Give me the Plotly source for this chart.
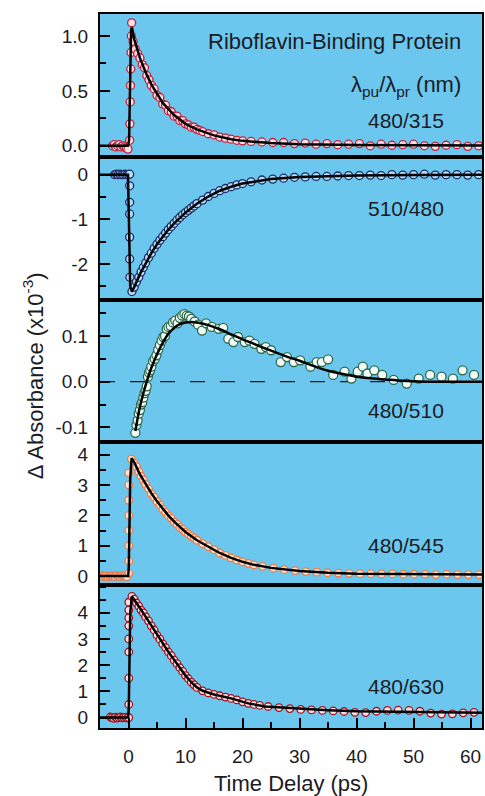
import plotly.graph_objects as go
from plotly.subplots import make_subplots

# ---------------- data ----------------
# Panel 1: 480/315
t1 = [-2.8,-2.5,-2.2,-1.9,-1.6,-1.3,-1.0,-0.7,-0.4,-0.1,
      0.2,0.25,0.3,0.35,0.4,0.45,0.5,0.55,
      0.8,1.2,1.6,2.0,2.4,2.8,3.2,3.6,4.0,
      4.5,5.0,5.5,6.0,6.5,7.0,7.5,8.0,8.5,9.0,9.5,10,10.5,11,11.5,12,12.5,13,
      14,15,16,17,18,19,20,
      21.5,23.4,25.3,27.2,29.1,31.0,32.9,34.8,36.7,38.6,40.5,42.4,44.3,46.2,48.1,50.0,51.9,53.8,55.7,57.6,59.5,61.4]
a1 = [0.0,0.01,-0.01,0.0,0.01,-0.01,0.0,-0.01,-0.02,-0.03,
      0.05,0.2,0.4,0.55,0.7,0.85,1.0,1.12,
      0.95,0.88,0.84,0.8,0.74,0.71,0.64,0.6,0.55,
      0.52,0.46,0.44,0.38,0.37,0.32,0.31,0.27,0.27,0.23,0.23,0.2,0.19,0.17,0.17,0.15,0.14,0.13,
      0.11,0.1,0.08,0.07,0.06,0.05,0.045,
      0.04,0.035,0.03,0.03,0.02,0.025,0.015,0.02,0.01,0.015,0.02,0.0,0.015,0.005,0.01,0.015,0.0,-0.005,0.005,0.01,-0.005,0.0]
fit1_t = [-5,-0.1,0.1,0.25,0.45,0.6,1,2,3,4,5,6,8,10,12,15,18,20,25,30,40,50,62]
fit1 = [0,0,0.05,0.6,1.05,1.08,0.97,0.8,0.67,0.56,0.47,0.39,0.28,0.2,0.15,0.095,0.06,0.045,0.025,0.015,0.008,0.005,0.004]

# Panel 2: 510/480
t2 = [-2.4,-2.1,-1.8,-1.5,-1.2,-0.9,-0.6,-0.3,0.0,
      0.2,0.2,0.2,0.2,0.2,0.2,0.25,
      0.6,
      1.0,1.4,1.8,2.2,2.6,3.0,
      3.5,4.0,4.5,5.0,5.5,6.0,6.5,7.0,7.5,8.0,8.5,9.0,9.5,10,10.5,11,11.5,12,
      13,14,15,16,17,18,19,20,
      21.5,23.4,25.3,27.2,29.1,31.0,32.9,34.8,36.7,38.6,40.5,42.4,44.3,46.2,48.1,50.0,51.9,53.8,55.7,57.6,59.5,61.4]
a2 = [0.0,0.01,0.0,0.01,0.0,0.0,0.01,0.0,0.0,
      0.01,-0.25,-0.62,-0.88,-1.4,-1.89,-2.3,
      -2.62,
      -2.52,-2.4,-2.3,-2.18,-2.08,-1.98,
      -1.86,-1.76,-1.65,-1.56,-1.47,-1.39,-1.31,-1.23,-1.16,-1.09,-1.02,-0.96,-0.9,-0.85,-0.8,-0.75,-0.7,-0.65,
      -0.57,-0.49,-0.42,-0.36,-0.31,-0.27,-0.23,-0.2,
      -0.16,-0.12,-0.1,-0.08,-0.06,-0.05,-0.04,-0.04,-0.03,-0.02,-0.02,-0.01,-0.02,0.0,-0.01,0.0,0.01,-0.01,0.0,0.0,-0.01,0.0]
fit2_t = [-5,-0.1,0.1,0.3,0.6,1,2,3,4,5,6,7,8,10,12,14,16,18,20,25,30,35,40,50,62]
fit2 = [0,0,-1.2,-2.5,-2.62,-2.52,-2.23,-1.98,-1.76,-1.56,-1.39,-1.23,-1.09,-0.85,-0.65,-0.49,-0.36,-0.27,-0.2,-0.1,-0.05,-0.03,-0.02,-0.01,0.0]

# Panel 3: 480/510
t3 = [1.2,1.4,1.6,1.8,2.0,2.2,2.4,2.6,2.8,3.0,
      3.2,3.4,3.6,3.8,4.0,4.3,4.6,4.9,5.2,5.5,5.8,6.1,6.4,6.7,7.0,
      7.4,7.8,8.2,8.6,9.0,9.4,9.8,10.2,10.6,11.0,
      11.6,12.2,12.9,13.6,14.6,15.8,16.6,17.5,18.4,19.2,
      20.4,21.2,22.1,23.3,24.1,25,26.7,27.8,29,30.1,
      31.9,33,33.9,35,35.9,37.9,39.1,40.2,41.1,41.9,
      43.1,44.5,46.5,48.8,50.9,52.9,54.9,56.9,58.6,60.6]
a3 = [-0.112,-0.095,-0.085,-0.07,-0.062,-0.05,-0.045,-0.035,-0.025,-0.02,
      -0.01,0.011,0.02,0.025,0.033,0.045,0.05,0.058,0.07,0.08,0.09,0.098,0.1,0.116,0.12,
      0.122,0.13,0.134,0.128,0.14,0.145,0.148,0.145,0.143,0.138,
      0.132,0.125,0.112,0.128,0.12,0.116,0.118,0.094,0.087,0.098,
      0.087,0.09,0.083,0.072,0.076,0.069,0.043,0.054,0.043,0.047,
      0.033,0.043,0.043,0.049,0.015,0.022,0.007,0.022,0.033,0.018,
      0.025,0.015,0.004,-0.004,0.007,0.015,0.011,0.007,0.025,0.015]
fit3_t = [1.2,1.6,2,2.5,3,3.5,4,5,6,7,8,9,10,11,12,14,16,18,20,22,25,28,30,33,35,38,40,43,45,48,50,53,55,58,62]
fit3 = [-0.108,-0.08,-0.055,-0.03,-0.008,0.012,0.03,0.06,0.085,0.105,
        0.118,0.126,0.13,0.131,0.13,0.124,0.115,0.104,0.093,0.083,
        0.068,0.054,0.046,0.032,0.024,0.016,0.011,0.007,0.005,0.002,
        0.001,0.0,0.0,0.0,0.0]

# Panel 4: 480/545
t4 = [-4.8,-4.5,-4.2,-3.9,-3.6,-3.3,-3.0,-2.7,-2.4,-2.1,-1.8,-1.5,-1.2,-0.9,-0.6,-0.3,
      0.05,0.05,0.05,0.05,0.05,0.05,0.05,0.05,
      0.5,
      1.0,1.4,1.8,2.2,2.6,3.0,
      3.5,4.0,4.5,5.0,5.5,6.0,6.5,7.0,7.5,8.0,8.5,9.0,9.5,10,10.5,11,11.5,12,
      13,14,15,16,17,18,19,20,21,22,
      23.5,25.4,27.3,29.2,31.1,33.0,34.9,36.8,38.7,40.6,42.5,44.4,46.3,48.2,50.1,52.0,53.9,55.8,57.7,59.6,61.5]
a4 = [0.02,-0.01,0.0,0.01,-0.02,0.0,0.01,0.0,-0.01,0.02,0.0,-0.01,0.01,0.0,0.0,-0.02,
      0.1,0.5,1.0,1.5,2.0,2.5,3.0,3.4,
      3.85,
      3.72,3.6,3.44,3.28,3.17,3.02,
      2.88,2.71,2.6,2.45,2.34,2.2,2.1,1.98,1.9,1.78,1.71,1.6,1.54,1.45,1.38,1.31,1.25,1.18,
      1.07,0.97,0.87,0.76,0.68,0.6,0.53,0.47,0.42,0.37,
      0.32,0.26,0.21,0.18,0.15,0.13,0.11,0.1,0.09,0.08,0.08,0.07,0.07,0.06,0.06,0.06,0.05,0.06,0.05,0.05,0.05]
fit4_t = [-5,-0.05,0.05,0.3,0.55,1,2,3,4,5,6,7,8,10,12,14,16,18,20,22,25,30,35,40,50,62]
fit4 = [0,0,0.3,3.2,3.88,3.74,3.35,3.03,2.73,2.46,2.21,1.99,1.79,1.45,1.18,0.96,0.76,0.6,0.47,0.37,0.27,0.17,0.11,0.08,0.06,0.05]

# Panel 5: 480/630
t5 = [-3.2,-2.9,-2.6,-2.3,-2.0,-1.7,-1.4,-1.1,-0.8,-0.5,-0.2,
      0.05,0.05,0.05,0.05,0.05,0.05,0.05,0.05,0.05,
      0.6,
      1.0,1.4,1.8,2.2,2.6,3.0,
      3.5,4.0,4.5,5.0,5.5,6.0,6.5,7.0,7.5,8.0,8.5,9.0,9.5,10,10.5,11,11.5,12,
      13,14,15,16,17,18,19,20,21,22,23,
      24.5,26.4,28.3,30.2,32.1,34.0,35.9,37.8,39.7,41.6,43.5,45.4,47.3,49.2,51.1,53.0,54.9,56.8,58.7,60.6]
a5 = [0.02,0.0,-0.03,0.01,-0.02,0.0,0.02,-0.01,0.0,0.01,-0.02,
      0.0,0.5,1.5,2.5,3.0,3.5,3.8,4.1,4.4,
      4.62,
      4.52,4.37,4.25,4.1,3.99,3.84,
      3.69,3.5,3.34,3.14,2.99,2.81,2.67,2.5,2.36,2.19,2.06,1.9,1.76,1.6,1.48,1.35,1.25,1.15,
      1.02,0.94,0.88,0.83,0.78,0.73,0.67,0.6,0.54,0.5,0.46,
      0.42,0.38,0.34,0.31,0.29,0.27,0.25,0.23,0.2,0.19,0.24,0.27,0.28,0.27,0.24,0.17,0.13,0.14,0.18,0.2]
fit5_t = [-5,-0.05,0.05,0.3,0.6,1,2,3,4,5,6,7,8,9,10,11,12,13,15,18,21,24,30,35,40,50,62]
fit5 = [0,0,0.4,4.0,4.62,4.5,4.18,3.85,3.5,3.15,2.82,2.5,2.2,1.9,1.6,1.35,1.15,1.02,0.88,0.73,0.54,0.42,0.33,0.28,0.24,0.2,0.18]

panel_labels = ["480/315", "510/480", "480/510", "480/545", "480/630"]
y_ranges = [[-0.1, 1.2], [-2.8, 0.4], [-0.133, 0.18], [-0.3, 4.4], [-0.4, 5.05]]
y_tickvals = [[0, 0.5, 1.0], [-2, -1, 0], [-0.1, 0.0, 0.1], [0, 1, 2, 3, 4], [0, 1, 2, 3, 4]]
y_ticktext = [["0.0", "0.5", "1.0"], ["-2", "-1", "0"], ["-0.1", "0.0", "0.1"],
              ["0", "1", "2", "3", "4"], ["0", "1", "2", "3", "4"]]
y_minor = [0.25, 0.5, 0.05, 0.5, 0.5]
x_tickvals = [0, 10, 20, 30, 40, 50, 60]

# ---------------- styling ----------------
edge_cols = ["#c21f3c", "#1d2a66", "#2c6a4c", "#f07a48", "#a3121f"]
fill_cols = ["#ffdfe3", "#b4def2", "#f4fcf7", "#ffe6d6", "#ffe2e2"]
sizes = [8, 8, 9, 7.5, 7.5]
BG = "#6CC7EE"
FONT = "Liberation Sans, Arial, sans-serif"
TXT = "#1b1b24"

fig = make_subplots(rows=5, cols=1, shared_xaxes=True, vertical_spacing=0)

data = [(t1, a1, fit1_t, fit1), (t2, a2, fit2_t, fit2), (t3, a3, fit3_t, fit3),
        (t4, a4, fit4_t, fit4), (t5, a5, fit5_t, fit5)]

for i, (t, a, ft, f) in enumerate(data):
    r = i + 1
    fig.add_trace(go.Scatter(x=t, y=a, mode="markers",
                             marker=dict(symbol="circle", size=sizes[i], color=fill_cols[i],
                                         line=dict(color=edge_cols[i], width=1.3)),
                             showlegend=False, hoverinfo="skip"), row=r, col=1)
    fig.add_trace(go.Scatter(x=ft, y=f, mode="lines",
                             line=dict(color="black", width=2.5,
                                       shape="spline" if i == 2 else "linear", smoothing=0.8),
                             showlegend=False, hoverinfo="skip"), row=r, col=1)
    fig.update_yaxes(range=y_ranges[i], tickmode="array", tickvals=y_tickvals[i],
                     ticktext=y_ticktext[i], ticks="inside", ticklen=10, tickwidth=1.5,
                     tickcolor="black",
                     minor=dict(ticks="inside", ticklen=6, tickwidth=1.5, tickcolor="black",
                                tickmode="linear", tick0=0, dtick=y_minor[i]),
                     showline=True, mirror=True, linewidth=2, linecolor="black",
                     showgrid=False, zeroline=False, ticklabelstandoff=6,
                     tickfont=dict(family=FONT, size=19, color=TXT),
                     row=r, col=1)
    common_x = dict(range=[-5, 62], showline=True, mirror=True, linewidth=2, linecolor="black",
                    showgrid=False, zeroline=False)
    if r < 5:
        fig.update_xaxes(ticks="", showticklabels=False, **common_x, row=r, col=1)
    else:
        fig.update_xaxes(tickmode="array", tickvals=x_tickvals, ticks="inside", ticklen=10,
                         tickwidth=1.5, tickcolor="black",
                         minor=dict(ticks="inside", ticklen=6, tickwidth=1.5, tickcolor="black",
                                    tickmode="linear", tick0=5, dtick=10),
                         ticklabelstandoff=10,
                         tickfont=dict(family=FONT, size=19, color=TXT),
                         **common_x, row=r, col=1)

# dashed zero line in panel 3
fig.add_hline(y=0, row=3, col=1, line=dict(color="#1a1a1a", width=1.2, dash="longdash"),
              layer="below")

# ---------------- annotations ----------------
def px(xp):
    return (xp - 100) / 384.0

def py(yp):
    return (728 - yp) / 714.0

ann = [
    dict(text="Riboflavin-Binding Protein", x=px(465), y=py(42), xanchor="right", size=22),
    dict(text="λ<sub>pu</sub>/λ<sub>pr</sub> (nm)", x=px(465), y=py(86), xanchor="right", size=22),
]
label_y = [120.7, 208, 410, 545.5, 686]
for lab, ly in zip(panel_labels, label_y):
    ann.append(dict(text=lab, x=px(407.5), y=py(ly), xanchor="center", size=21))

for a in ann:
    fig.add_annotation(text=a["text"], x=a["x"], y=a["y"], xref="paper", yref="paper",
                       xanchor=a["xanchor"], yanchor="middle", showarrow=False,
                       font=dict(family=FONT, size=a["size"], color=TXT))

fig.add_annotation(text="Δ Absorbance (x10<sup>-3</sup>)", x=px(33), y=py(376),
                   xref="paper", yref="paper", textangle=-90, showarrow=False,
                   xanchor="center", yanchor="middle",
                   font=dict(family=FONT, size=22, color=TXT))
fig.add_annotation(text="Time Delay (ps)", x=0.5, y=py(783), xref="paper", yref="paper",
                   showarrow=False, xanchor="center", yanchor="middle",
                   font=dict(family=FONT, size=22, color=TXT))

fig.update_layout(width=485, height=796, margin=dict(l=100, r=1, t=14, b=68),
                  paper_bgcolor="white", plot_bgcolor=BG,
                  font=dict(family=FONT, size=19, color=TXT))

fig.write_html("out.html")
